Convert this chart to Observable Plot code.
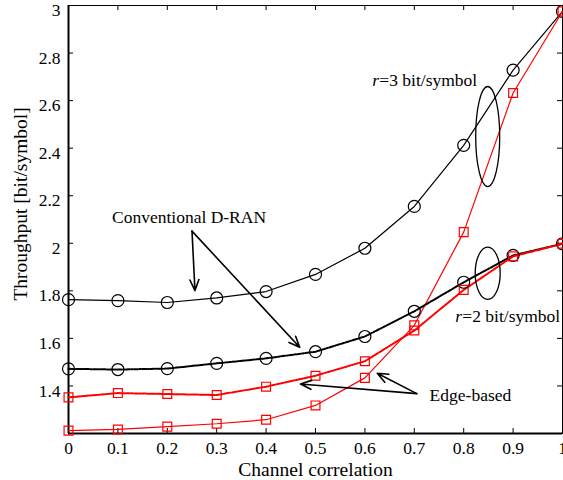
<!DOCTYPE html>
<html><head><meta charset="utf-8">
<script src="https://cdn.jsdelivr.net/npm/d3@7"></script>
<script src="https://cdn.jsdelivr.net/npm/@observablehq/plot@0.6"></script>
<style>body{margin:0;background:#fff}</style>
</head><body><div id="chart"></div>
<script>
// ---- data ----
const correlation = [0, 0.1, 0.2, 0.3, 0.4, 0.5, 0.6, 0.7, 0.8, 0.9, 1];
const conventionalR3 = [1.763, 1.759, 1.751, 1.770, 1.797, 1.869, 1.979, 2.155, 2.412, 2.728, 2.975];
const edgeR3         = [1.212, 1.217, 1.229, 1.241, 1.258, 1.318, 1.434, 1.655, 2.047, 2.632, 2.975];
const conventionalR2 = [1.472, 1.469, 1.473, 1.495, 1.516, 1.544, 1.608, 1.714, 1.836, 1.949, 1.998];
const edgeR2         = [1.352, 1.370, 1.366, 1.362, 1.397, 1.443, 1.504, 1.633, 1.804, 1.945, 1.998];
const xTicks = [0, 0.1, 0.2, 0.3, 0.4, 0.5, 0.6, 0.7, 0.8, 0.9, 1];
const yTicks = [1.4, 1.6, 1.8, 2, 2.2, 2.4, 2.6, 2.8, 3];
const xLabel = "Channel correlation";
const yLabel = {x: -0.0972, y: 2.1655, text: "Throughput [bit/symbol]"};

// annotation anchors (data units)
const labelConv = {x: 0.088, y: 2.110, text: "Conventional D-RAN"};
const labelEdge = {x: 0.731, y: 1.362, text: "Edge-based"};
const labelR3 = {x: 0.615, y: 2.684, r: "r", text: "=3 bit/symbol"};
const labelR2 = {x: 0.783, y: 1.691, r: "r", text: "=2 bit/symbol"};
const arrows = [
  {x1: 0.250, y1: 2.051, x2: 0.256, y2: 1.801},
  {x1: 0.250, y1: 2.051, x2: 0.468, y2: 1.5625},
  {x1: 0.705, y1: 1.3676, x2: 0.4696, y2: 1.4084},
  {x1: 0.705, y1: 1.3676, x2: 0.6249, y2: 1.4531}
];
const ellipses = [
  {cx: 0.8496, cy: 2.4467, rx: 0.0243, ry: 0.2105},
  {cx: 0.8496, cy: 1.8716, rx: 0.0253, ry: 0.110}
];

// ---- series styling ----
const series = [
  {name: "conv r3", values: conventionalR3, color: "black", dash: null, width: 1.2, symbol: "circle", r: 6},
  {name: "edge r3", values: edgeR3, color: "#ff0000", dash: null, width: 1.2, symbol: "square", r: 5},
  {name: "conv r2", values: conventionalR2, color: "black", dash: "4,1.5,1.2,1.5", width: 2, symbol: "circle", r: 6},
  {name: "edge r2", values: edgeR2, color: "#ff0000", dash: "4,1.5,1.2,1.5", width: 2, symbol: "square", r: 5}
];
const rowsOf = s => correlation.map((c, i) => ({x: c, y: s.values[i]}));

const FONT = "'Liberation Serif', 'Times New Roman', serif";

const marks = [];
// tick marks (inward)
marks.push(Plot.tickX(xTicks.slice(1, -1), {x: d => d, insetTop: 423, stroke: "black"}));
marks.push(Plot.tickX(xTicks.slice(1, -1), {x: d => d, insetBottom: 423, stroke: "black"}));
marks.push(Plot.tickY(yTicks.slice(0, -1), {y: d => d, insetRight: 489, stroke: "black"}));
marks.push(Plot.tickY(yTicks.slice(0, -1), {y: d => d, insetLeft: 489, stroke: "black"}));
marks.push(Plot.frame({stroke: "black", strokeWidth: 1}));
marks.push(Plot.ruleX([0], {stroke: "black", strokeWidth: 2}));
marks.push(Plot.ruleY([1.2], {stroke: "black", strokeWidth: 2}));

for (const s of series) {
  marks.push(Plot.line(rowsOf(s), {x: "x", y: "y", stroke: s.color, strokeWidth: s.width, strokeDasharray: s.dash}));
}
for (const s of series) {
  marks.push(Plot.dot(rowsOf(s), {x: "x", y: "y", symbol: s.symbol, r: s.r, stroke: s.color, fill: "none", strokeWidth: 1.2}));
}

// ellipses
marks.push((index, scales) => {
  const g = d3.create("svg:g");
  for (const e of ellipses) {
    const cx = scales.x(e.cx), cy = scales.y(e.cy);
    g.append("ellipse")
      .attr("cx", cx).attr("cy", cy)
      .attr("rx", Math.abs(scales.x(e.cx + e.rx) - cx))
      .attr("ry", Math.abs(scales.y(e.cy + e.ry) - cy))
      .attr("fill", "none").attr("stroke", "black").attr("stroke-width", 1.3);
  }
  return g.node();
});

// arrows
marks.push(Plot.arrow(arrows, {x1: "x1", y1: "y1", x2: "x2", y2: "y2", stroke: "black", strokeWidth: 1.6, headLength: 11, headAngle: 45}));

// annotation texts
const annoStyle = {fontSize: 17.5, fill: "black", textAnchor: "start", lineAnchor: "middle"};
marks.push(Plot.text([labelConv, labelEdge], {x: "x", y: "y", text: "text", ...annoStyle}));
marks.push(Plot.text([labelR3, labelR2], {x: "x", y: "y", text: "r", fontStyle: "italic", ...annoStyle}));
marks.push(Plot.text([labelR3, labelR2], {x: "x", y: "y", text: "text", dx: 7, ...annoStyle}));

// axes
marks.push(Plot.axisX(xTicks, {tickSize: 0, tickPadding: 8, tickFormat: d => String(d), fontSize: 17.5, label: null}));
marks.push(Plot.axisY(yTicks, {tickSize: 0, tickPadding: 8, tickFormat: d => String(d), fontSize: 17.5, dy: 5, label: null}));
marks.push(Plot.text([xLabel], {frameAnchor: "bottom", dy: 36, fontSize: 19.5, lineAnchor: "middle", text: d => d}));
marks.push(Plot.text([yLabel], {x: "x", y: "y", text: "text", rotate: -90, fontSize: 19.5, lineAnchor: "middle", textAnchor: "middle"}));

const chart = Plot.plot({
  width: 563,
  height: 480,
  marginLeft: 68,
  marginRight: 1,
  marginTop: 5,
  marginBottom: 47,
  style: {fontFamily: FONT, background: "white", color: "black"},
  x: {domain: [0, 1]},
  y: {domain: [1.2, 3]},
  marks
});
document.getElementById("chart").appendChild(chart);
</script>
</body></html>
